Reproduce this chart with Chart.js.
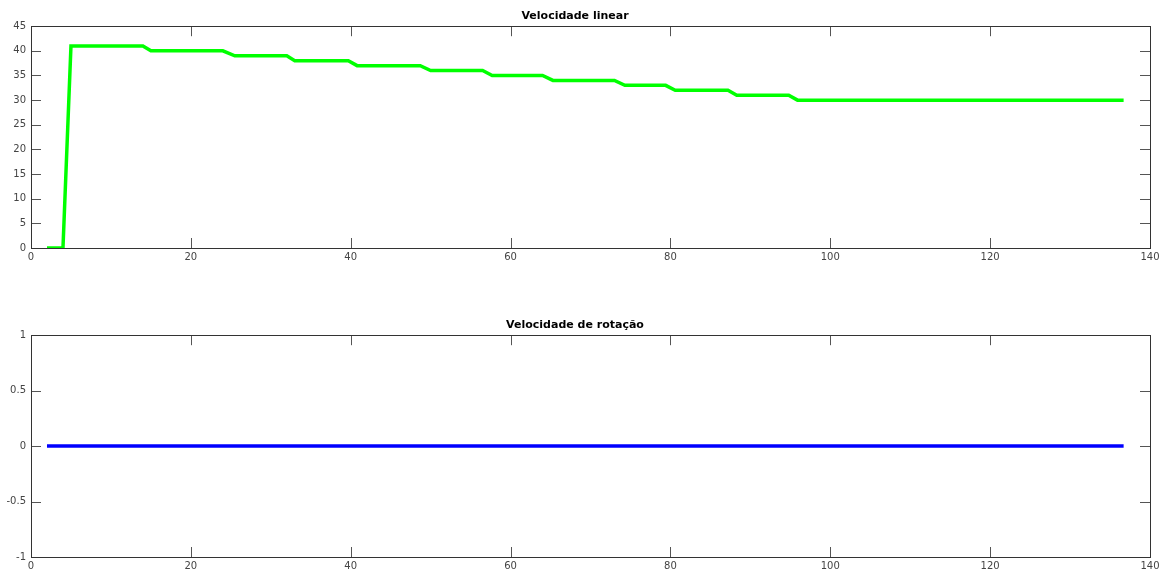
<!DOCTYPE html>
<html>
<head>
<meta charset="utf-8">
<script src="https://cdn.jsdelivr.net/npm/chart.js@4"></script>
<style>
    body { margin: 0; background: #fff; width: 1167px; height: 574px; position: relative; overflow: hidden; }
    .box { position: absolute; left: 0; width: 1167px; height: 268px; }
</style>
</head>
<body>
<div class="box" style="top:0"><canvas id="linear"></canvas></div>
<div class="box" style="top:309px"><canvas id="rotacao"></canvas></div>
<script>
Chart.defaults.font.family = 'DejaVu Sans';
Chart.defaults.font.size = 10;
Chart.defaults.color = '#444';

// corner points (time, value)
const tempo = [2, 4, 5, 14, 15, 24, 25.5, 32, 33, 39.7, 40.8, 48.7, 50, 56.5, 57.7,
    64, 65.3, 73, 74.3, 79.4, 80.6, 87.2, 88.3, 94.8, 95.9, 136.7];
const velLinear = [0, 0, 41, 41, 40, 40, 39, 39, 38, 38, 37, 37, 36, 36, 35,
    35, 34, 34, 33, 33, 32, 32, 31, 31, 30, 30];
const tempoRot = [2, 136.7];
const velRotacao = [0, 0];

const xTicks = [0, 20, 40, 60, 80, 100, 120, 140];

// matlab style box with inward ticks
const boxTicks = {
    id: 'boxTicks',
    afterDraw(chart) {
        const { ctx, chartArea: a, scales } = chart;
        ctx.save();
        ctx.strokeStyle = '#555';
        ctx.lineWidth = 1;
        ctx.beginPath();
        scales.x.ticks.forEach(t => {
            const px = Math.round(scales.x.getPixelForValue(t.value)) + 0.5;
            ctx.moveTo(px, a.bottom); ctx.lineTo(px, a.bottom - 10);
            ctx.moveTo(px, a.top); ctx.lineTo(px, a.top + 10);
        });
        scales.y.ticks.forEach(t => {
            const py = Math.round(scales.y.getPixelForValue(t.value)) + 0.5;
            ctx.moveTo(a.left, py); ctx.lineTo(a.left + 10, py);
            ctx.moveTo(a.right, py); ctx.lineTo(a.right - 10, py);
        });
        ctx.stroke();
        ctx.strokeStyle = '#333';
        ctx.strokeRect(Math.round(a.left) + 0.5, Math.round(a.top) + 0.5,
            Math.round(a.right - a.left), Math.round(a.bottom - a.top));
        ctx.restore();
    },
};

function makePlot(canvasId, title, xs, ys, color, yMin, yMax, yStep) {
    return new Chart(document.getElementById(canvasId), {
        type: 'line',
        data: {
            datasets: [{
                data: xs.map((x, i) => ({ x, y: ys[i] })),
                borderColor: color,
                borderWidth: 3.5,
                pointRadius: 0,
                tension: 0,
            }],
        },
        options: {
            responsive: true,
            maintainAspectRatio: false,
            animation: false,
            layout: { padding: { left: 0, right: 17, top: 0, bottom: 0 } },
            plugins: {
                legend: { display: false },
                tooltip: { enabled: false },
                title: {
                    display: true,
                    text: title,
                    color: '#000',
                    font: { size: 11, weight: 'bold' },
                    padding: { top: 10, bottom: 3 },
                },
            },
            scales: {
                x: {
                    type: 'linear',
                    min: 0, max: 140,
                    afterBuildTicks: s => { s.ticks = xTicks.map(v => ({ value: v })); },
                    afterFit: s => { s.height = 20; },
                    ticks: { padding: 3, maxRotation: 0 },
                    grid: { display: false, drawTicks: false },
                    border: { display: false },
                },
                y: {
                    min: yMin, max: yMax,
                    afterFit: s => { s.width = 31; },
                    ticks: { stepSize: yStep, padding: 5, callback: v => String(v) },
                    grid: { display: false, drawTicks: false },
                    border: { display: false },
                },
            },
        },
        plugins: [boxTicks],
    });
}

makePlot('linear', 'Velocidade linear', tempo, velLinear, '#00ff00', 0, 45, 5);
makePlot('rotacao', 'Velocidade de rotação', tempoRot, velRotacao, '#0000ff', -1, 1, 0.5);
</script>
</body>
</html>
